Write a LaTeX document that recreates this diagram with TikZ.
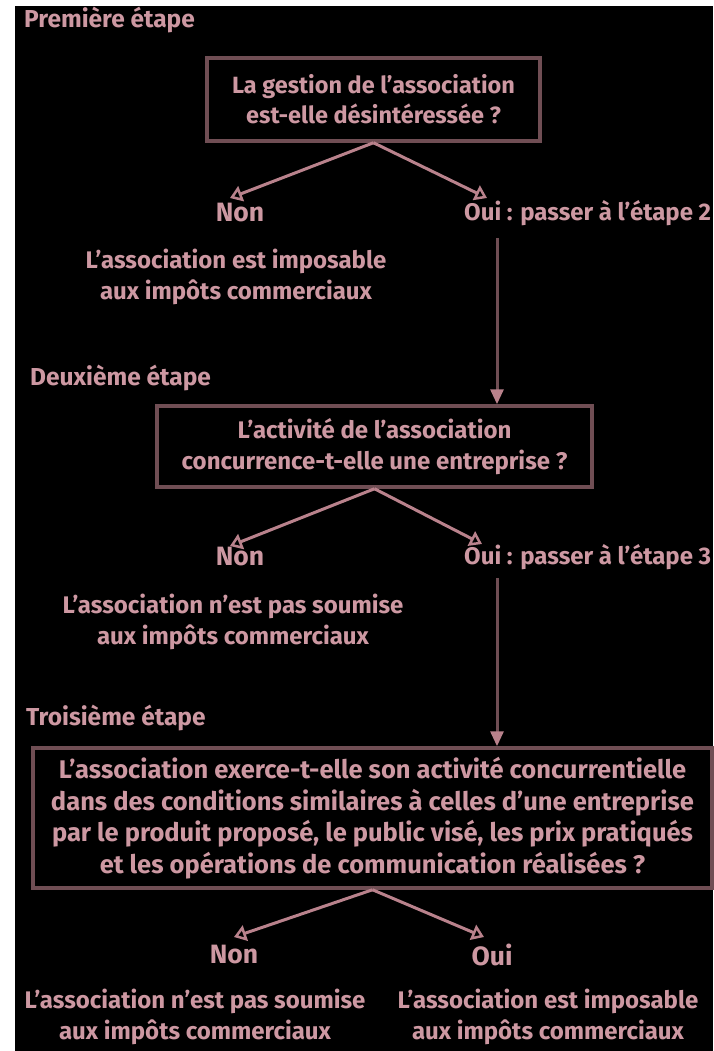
\documentclass[tikz,border=0pt]{standalone}
\usepackage{fontspec}
\setmainfont{Fira Sans}
\usetikzlibrary{arrows.meta}
\definecolor{txt}{RGB}{205,152,162}
\definecolor{boxc}{RGB}{112,78,84}
\definecolor{arrc}{RGB}{185,130,140}
\begin{document}
\begin{tikzpicture}[x=1pt,y=-1pt,
  every node/.style={text=txt,font=\fontsize{24}{31}\selectfont\bfseries,inner sep=0pt},
  qbox/.style={draw=boxc,line width=3.5pt,align=center},
  lbl/.style={font=\fontsize{26.5}{30}\selectfont\bfseries},
  ouil/.style={font=\fontsize{24}{30}\selectfont\bfseries,anchor=west},
  res/.style={align=center},
  head/.style={anchor=west,font=\fontsize{24.5}{30}\selectfont\bfseries},
  diag/.style={draw=arrc,line width=3pt,-{Triangle[open,width=16pt,length=12pt,line width=2.5pt]}},
  vert/.style={draw=boxc,line width=3pt,-{Triangle[width=13pt,length=15pt,fill=arrc,color=arrc]}}]
\useasboundingbox (0,0) rectangle (713,1051);
\fill[white] (0,0) rectangle (713,1051);
\fill[black] (15,6) rectangle (713,1051);
% stage 1
\node[head] (h1) at (24,20) {Première étape};
\node[qbox,minimum width=333pt,minimum height=83pt,font=\fontsize{23.5}{30}\selectfont\bfseries] (b1) at (373.5,99.5) {La gestion de l'association\\est-elle désintéressée ?};
\node[lbl] (non1) at (240,213) {Non};
\node[ouil] (oui1) at (464,213) {Oui : passer à l'étape 2};
\node[res] (t1) at (236,277) {L'association est imposable\\aux impôts commerciaux};
\coordinate (n1tip) at (230,198);
\coordinate (o1tip) at (487,198);
\draw[diag] (b1.south) -- (n1tip);
\draw[diag] (b1.south) -- (o1tip);
\coordinate (v1) at (497,238);
% stage 2
\node[head] (h2) at (30,378) {Deuxième étape};
\node[qbox,minimum width=435pt,minimum height=81pt] (b2) at (374.5,446.5) {L'activité de l'association\\concurrence-t-elle une entreprise ?};
\draw[vert] (v1) -- (v1 |- b2.north);
\node[lbl] (non2) at (240,557) {Non};
\node[ouil] (oui2) at (464,557) {Oui : passer à l'étape 3};
\node[res] (t2) at (233,622) {L'association n'est pas soumise\\aux impôts commerciaux};
\coordinate (n2tip) at (230,546);
\coordinate (o2tip) at (482,544);
\draw[diag] (b2.south) -- (n2tip);
\draw[diag] (b2.south) -- (o2tip);
\coordinate (v2) at (497,578);
% stage 3
\node[head] (h3) at (26,718) {Troisième étape};
\node[qbox,minimum width=679pt,minimum height=140pt,font=\fontsize{25.5}{31.5}\selectfont\bfseries] (b3) at (372.5,818) {L'association exerce-t-elle son activité concurrentielle\\dans des conditions similaires à celles d'une entreprise\\par le produit proposé, le public visé, les prix pratiqués\\et les opérations de communication réalisées ?};
\draw[vert] (v2) -- (v2 |- b3.north);
\node[lbl] (non3) at (234,955) {Non};
\node[lbl] (oui3) at (492,955) {Oui};
\coordinate (n3tip) at (234,937);
\coordinate (o3tip) at (484,937);
\draw[diag] (b3.south) -- (n3tip);
\draw[diag] (b3.south) -- (o3tip);
\node[res] (t3l) at (195,1017) {L'association n'est pas soumise\\aux impôts commerciaux};
\node[res] (t3r) at (548,1017) {L'association est imposable\\aux impôts commerciaux};
\end{tikzpicture}
\end{document}
